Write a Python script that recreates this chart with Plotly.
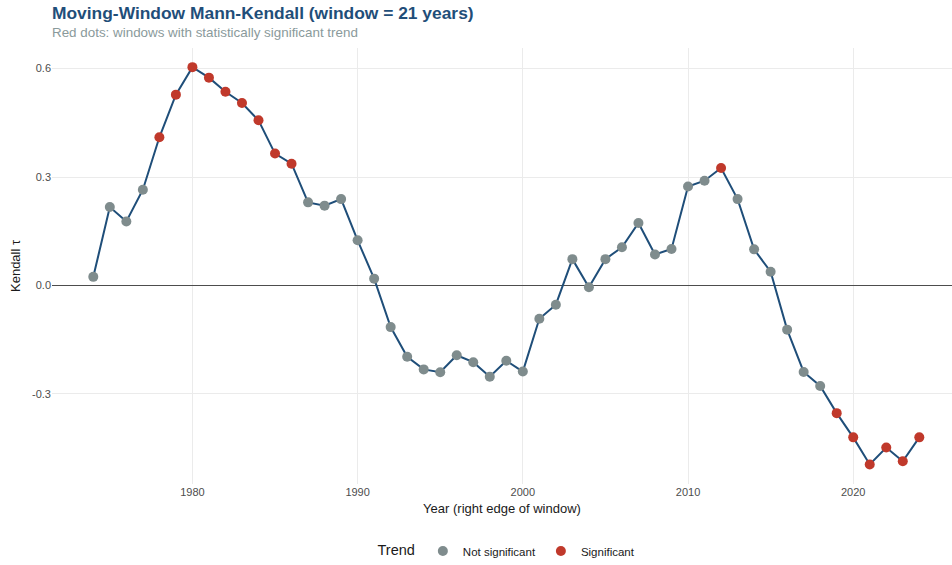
import plotly.graph_objects as go

years = list(range(1974, 2025))
tau = [0.024, 0.217, 0.177, 0.265, 0.410, 0.528, 0.604, 0.575, 0.536, 0.505,
       0.457, 0.365, 0.337, 0.230, 0.221, 0.239, 0.125, 0.019, -0.115, -0.197,
       -0.232, -0.240, -0.193, -0.212, -0.252, -0.208, -0.238, -0.092, -0.053, 0.073,
       -0.005, 0.073, 0.106, 0.173, 0.086, 0.101, 0.274, 0.290, 0.325, 0.239,
       0.100, 0.038, -0.122, -0.239, -0.278, -0.353, -0.420, -0.495, -0.448, -0.486,
       -0.420]
significant_years = [1978, 1979, 1980, 1981, 1982, 1983, 1984, 1985, 1986, 2012,
                     2019, 2020, 2021, 2022, 2023, 2024]
x_ticks = [1980, 1990, 2000, 2010, 2020]
y_ticks = [-0.3, 0.0, 0.3, 0.6]
y_tick_labels = ["-0.3", "0.0", "0.3", "0.6"]

LINE = "#1F4E79"
GREY = "#7F8C8D"
RED = "#C0392B"
FONT = "Liberation Sans, Arial, sans-serif"

sig_x = [y for y in years if y in significant_years]
sig_y = [t for y, t in zip(years, tau) if y in significant_years]
ns_x = [y for y in years if y not in significant_years]
ns_y = [t for y, t in zip(years, tau) if y not in significant_years]

fig = go.Figure()
fig.add_trace(go.Scatter(x=years, y=tau, mode="lines",
                         line=dict(color=LINE, width=2), showlegend=False,
                         hoverinfo="skip"))
fig.add_trace(go.Scatter(x=ns_x, y=ns_y, mode="markers", name="Not significant",
                         marker=dict(color=GREY, size=10)))
fig.add_trace(go.Scatter(x=sig_x, y=sig_y, mode="markers", name="Significant",
                         marker=dict(color=RED, size=10)))

W, H = 952, 565
L, R, T, B = 52, 0, 48, 81
PW, PH = W - L - R, H - T - B

fig.update_layout(
    width=W, height=H,
    margin=dict(l=L, r=R, t=T, b=B),
    plot_bgcolor="white", paper_bgcolor="white",
    font=dict(family=FONT, color="#1A1A1A"),
    xaxis=dict(range=[1971.5, 1971.5 + PW / 16.52], tickvals=x_ticks,
               showgrid=True, gridcolor="#EBEBEB", gridwidth=1,
               zeroline=False, showline=False, ticks="", automargin=False,
               tickfont=dict(size=11, color="#4D4D4D"),
               title=dict(text="Year (right edge of window)",
                          font=dict(size=13, color="#1A1A1A"), standoff=6)),
    yaxis=dict(range=[-0.549, 0.657], tickvals=y_ticks, ticktext=y_tick_labels,
               showgrid=True, gridcolor="#EBEBEB", gridwidth=1,
               zeroline=True, zerolinecolor="#4D4D4D", zerolinewidth=1,
               showline=False, ticks="", automargin=False,
               tickfont=dict(size=11, color="#4D4D4D")),
    legend=dict(orientation="h", x=0.5 + 6 / PW, xanchor="center",
                yref="container", y=1 - 551 / H, yanchor="middle",
                title=dict(text="Trend", font=dict(size=14.5)),
                font=dict(size=11.5, color="#1A1A1A"), itemwidth=30),
    annotations=[
        dict(text="<b>Moving-Window Mann-Kendall (window = 21 years)</b>",
             xref="paper", yref="paper", x=-2 / PW, y=1 + (T - 13) / PH,
             xanchor="left", yanchor="middle", showarrow=False,
             font=dict(size=17.4, color="#1F4E79")),
        dict(text="Red dots: windows with statistically significant trend",
             xref="paper", yref="paper", x=-2 / PW, y=1 + (T - 33) / PH,
             xanchor="left", yanchor="middle", showarrow=False,
             font=dict(size=13.4, color="#8A9A9B")),
        dict(text="Kendall τ", xref="paper", yref="paper",
             x=-(L - 15) / PW, y=0.5, textangle=-90,
             xanchor="center", yanchor="middle", showarrow=False,
             font=dict(size=13, color="#1A1A1A")),
    ],
)

fig.write_html("out.html", config={"displayModeBar": False},
               post_script="document.body.style.margin='0';document.body.style.overflow='hidden';")
